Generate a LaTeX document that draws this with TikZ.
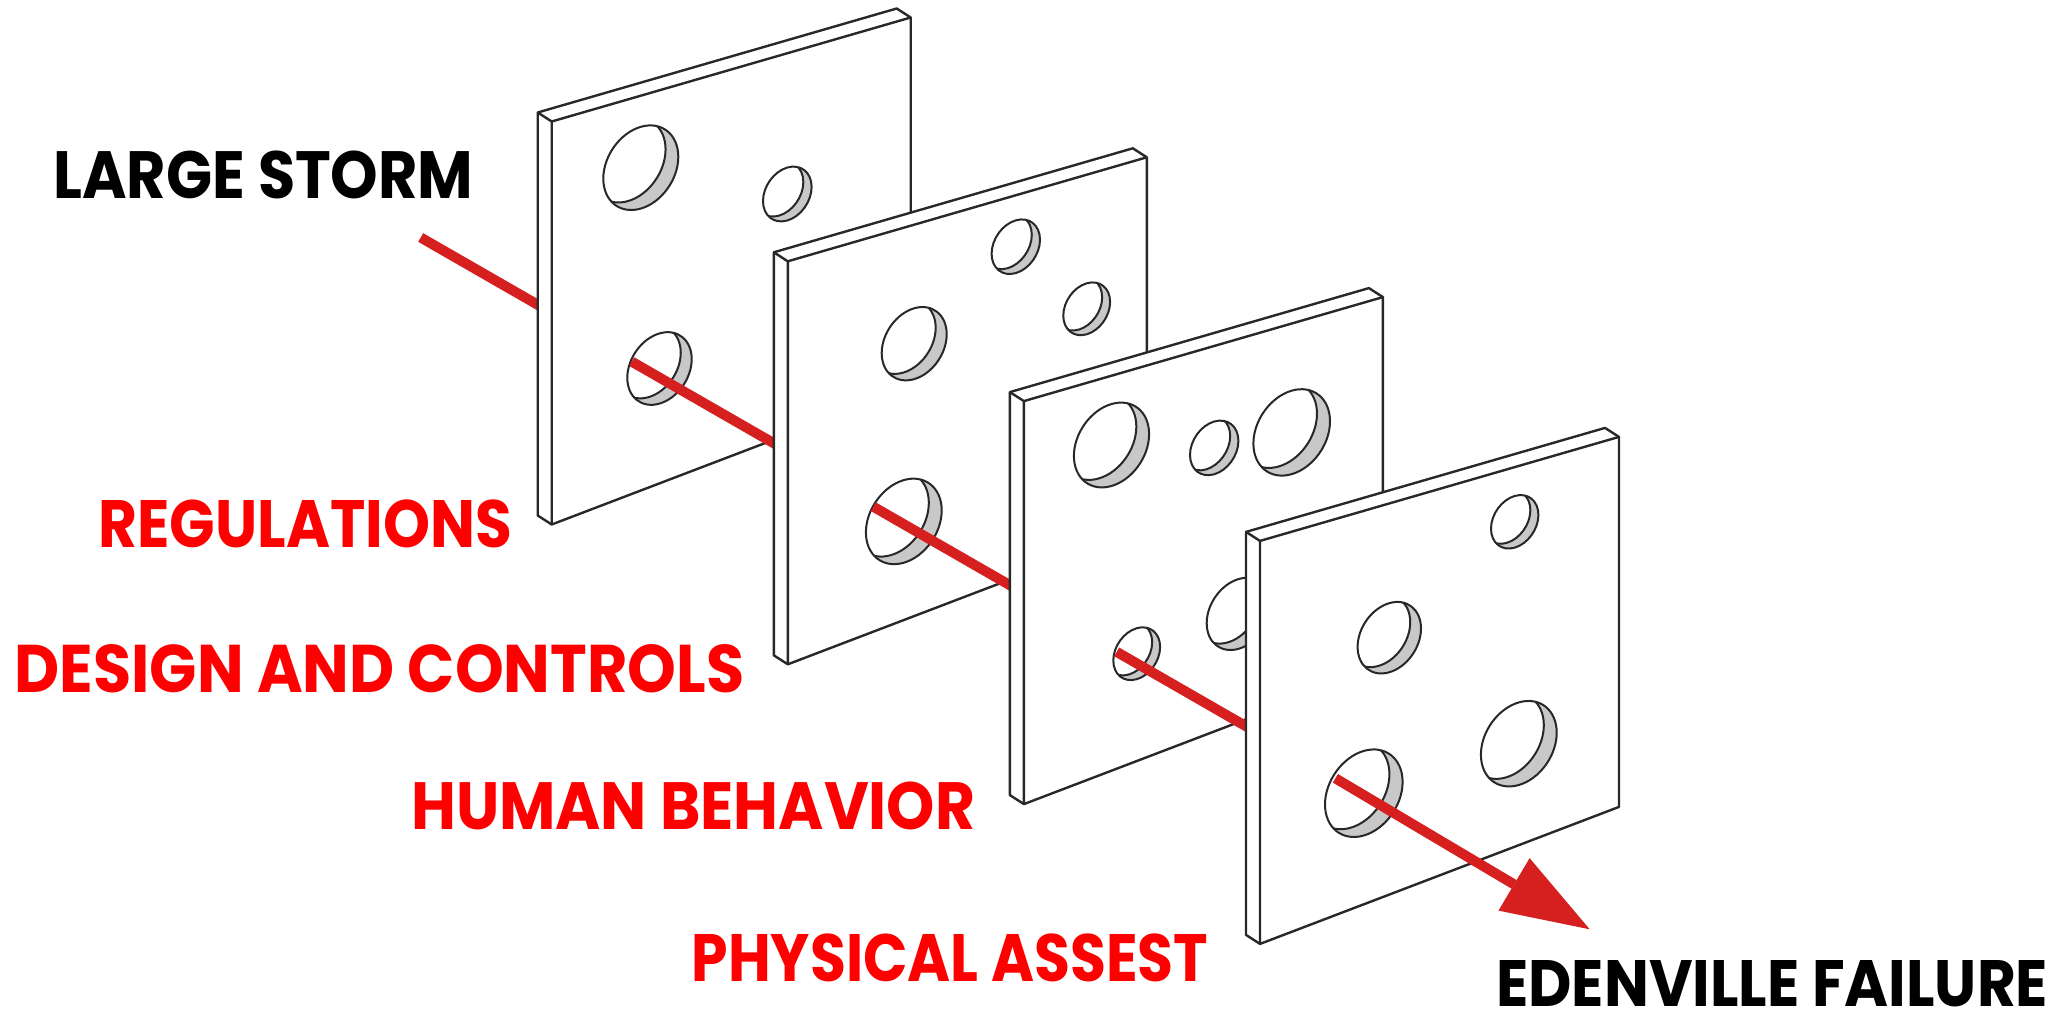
\documentclass[tikz,border=0pt]{standalone}
\usepackage{fontspec}
\usepackage{graphicx}
\setmainfont{Poppins}
\usetikzlibrary{arrows.meta}

\definecolor{redtxt}{RGB}{255,0,0}
\definecolor{redln}{RGB}{214,32,32}
\definecolor{holegray}{RGB}{200,200,200}
\definecolor{edgecol}{RGB}{40,40,40}

\tikzset{
  plateline/.style={draw=edgecol, line width=2.4pt, line join=round},
  holeline/.style={draw=edgecol, line width=2pt},
  redseg/.style={draw=redln, line width=10pt, line cap=butt},
  lbl/.style={inner sep=0pt, anchor=north west, font=\bfseries\fontsize{60}{60}\selectfont},
}

% plate: front top-left corner (fx,fy) in pixel units (y down)
\newcommand\plateshape[2]{%
  \begin{scope}[shift={(#1,#2)}]
    \filldraw[plateline, fill=white] (-14,394) -- (-14,-9) -- (345,-113) -- (359,-104)
      -- (359,266) -- (0,403) -- cycle;
    \draw[plateline] (-14,-9) -- (0,0) -- (359,-104) (0,0) -- (0,403);
  \end{scope}}

% hole: centre (cx,cy), horizontal half width a
\newcommand\hole[3]{%
  \begin{scope}[shift={(#1,#2)}, x={(1pt,0.29pt)}, y={(0pt,-1.09pt)}]
    \fill[holegray] (0,0) circle (#3);
    \begin{scope}
      \clip (0,0) circle (#3);
      \fill[white] ({-0.34*#3},{-0.274*#3}) circle (#3);
      \draw[holeline] ({-0.34*#3},{-0.274*#3}) circle (#3);
    \end{scope}
    \draw[holeline] (0,0) circle (#3);
  \end{scope}}

\begin{document}
\begin{tikzpicture}[x=1pt, y=-1pt]
\useasboundingbox (0,0) rectangle (2061,1017);
\fill[white] (0,0) rectangle (2061,1017);

% red path coordinates
\coordinate (s0a) at (420.7,237.5);
\coordinate (s0b) at (546,309.5);
\coordinate (s1a) at (631.7,361.6);
\coordinate (s1b) at (781,447.4);
\coordinate (s2a) at (873.3,506.7);
\coordinate (s2b) at (1017,589.3);
\coordinate (s3a) at (1116.7,651.9);
\coordinate (s3b) at (1253,730.3);
\coordinate (s4a) at (1335.4,778.3);
\coordinate (tip) at (1589.7,929.3);

\draw[redseg] (s0a) -- (s0b);

% plate 1
\plateshape{551.7}{121.5}
\hole{640.8}{167.7}{37.5}
\hole{787.3}{194}{24.3}
\hole{659.5}{368.5}{32.2}
\draw[redseg] (s1a) -- (s1b);

% plate 2
\plateshape{787.8}{261.3}
\hole{1015.8}{246.7}{24.2}
\hole{1086.7}{308.8}{23.4}
\hole{914.2}{343.7}{32.5}
\hole{903.8}{521.4}{37.9}
\draw[redseg] (s2a) -- (s2b);

% plate 3
\plateshape{1023.9}{401.1}
\hole{1111.5}{445}{37.6}
\hole{1214.2}{447.9}{24.2}
\hole{1291.7}{432.4}{38.3}
\hole{1238.7}{613.9}{32}
\hole{1136.7}{653.7}{23.4}
\draw[redseg] (s3a) -- (s3b);

% plate 4
\plateshape{1260}{540.9}
\hole{1514.7}{521.8}{23.7}
\hole{1389.3}{637.7}{31.7}
\hole{1518.8}{743.7}{37.9}
\hole{1363.8}{793.2}{38.8}
\draw[redseg, -{Triangle[length=88pt,width=61pt,line width=0pt]}] (s4a) -- (tip);

% labels
\node[lbl, text=black] (storm) at (53.3,150.7) {\resizebox{420pt}{47.6pt}{LARGE STORM}};
\node[lbl, text=redtxt] (regs) at (98.3,499.3) {\resizebox{413.4pt}{47.7pt}{REGULATIONS}};
\node[lbl, text=redtxt] (design) at (14.6,644.3) {\resizebox{729.4pt}{48pt}{DESIGN AND CONTROLS}};
\node[lbl, text=redtxt] (human) at (411,781.7) {\resizebox{564pt}{47.6pt}{HUMAN BEHAVIOR}};
\node[lbl, text=redtxt] (phys) at (691.6,933.3) {\resizebox{516.4pt}{47.7pt}{PHYSICAL ASSEST}};
\node[lbl, text=black] (eden) at (1496,960) {\resizebox{552pt}{46pt}{EDENVILLE FAILURE}};
\end{tikzpicture}
\end{document}
